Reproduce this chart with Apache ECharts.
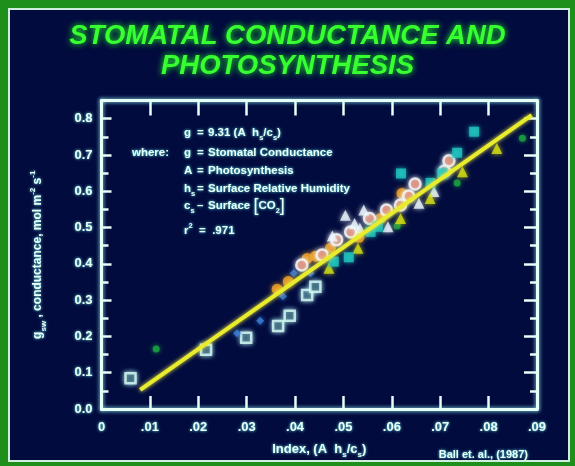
<!DOCTYPE html>
<html>
<head>
<meta charset="utf-8">
<script src="https://cdn.jsdelivr.net/npm/echarts@6/dist/echarts.min.js"></script>
<style>
  html, body { margin: 0; padding: 0; background: #020b3e; }
  #chart { width: 575px; height: 466px; }
</style>
</head>
<body>
<div id="chart"></div>
<script>
// values: [index A*hs/cs, conductance]
const openSquares = [[0.006, 0.085], [0.0216, 0.163], [0.0299, 0.196], [0.0365, 0.229], [0.0389, 0.257], [0.0425, 0.314], [0.0442, 0.337]];
const blueDiamonds = [[0.028, 0.209], [0.0328, 0.243], [0.0375, 0.311], [0.0397, 0.374], [0.0432, 0.374]];
const greenDots = [[0.0113, 0.165], [0.0611, 0.504], [0.0735, 0.623], [0.087, 0.746]];
const orangeCircles = [[0.0363, 0.33], [0.0386, 0.351], [0.0425, 0.415], [0.0442, 0.421], [0.0473, 0.443], [0.0532, 0.473], [0.0577, 0.525], [0.0621, 0.594]];
const targetCircles = [[0.0414, 0.397], [0.0456, 0.424], [0.0486, 0.466], [0.0515, 0.488], [0.0554, 0.525], [0.0589, 0.548], [0.0618, 0.562], [0.0635, 0.587], [0.0648, 0.62], [0.0709, 0.656], [0.0718, 0.684]];
const whiteTriangles = [[0.0477, 0.477], [0.0504, 0.534], [0.0523, 0.511], [0.0534, 0.498], [0.0542, 0.548], [0.0592, 0.502], [0.0656, 0.567], [0.0687, 0.599]];
const yellowTriangles = [[0.047, 0.388], [0.053, 0.443], [0.0618, 0.525], [0.0679, 0.58], [0.0746, 0.654], [0.0817, 0.718]];
const cyanSquares = [[0.048, 0.406], [0.0511, 0.418], [0.0556, 0.488], [0.0571, 0.502], [0.0619, 0.649], [0.068, 0.623], [0.0704, 0.649], [0.0735, 0.706], [0.077, 0.764]];
const fitLine = [[0.008, 0.053], [0.0889, 0.81]];

const xMin = 0, xMax = 0.09, xStep = 0.01;
const yMin = 0, yMax = 0.85, yStep = 0.1;

const navy = "#020b3e";
const green = "#1f8f1c";
const frame = "#e6fff7";
const textCol = "#e9fff8";
const font = "'Liberation Sans', Arial, sans-serif";

const chart = echarts.init(document.getElementById("chart"));

function pts(name, data, symbol, size, color, extra) {
  return {
    name, type: "scatter", data, symbol, symbolSize: size, z: 3,
    itemStyle: Object.assign({ color, shadowBlur: 5, shadowColor: color }, extra || {}),
  };
}

const axisBase = {
  type: "value",
  splitLine: { show: false },
  axisLine: { show: true, onZero: false, lineStyle: { color: frame, width: 3, shadowBlur: 4, shadowColor: "#9ff" } },
  axisTick: { show: true, inside: true, lineStyle: { color: frame, width: 2.5 } },
};

const labelStyle = {
  color: textCol, fontFamily: font, fontWeight: "bold", fontSize: 13,
  textShadowBlur: 3, textShadowColor: "#7ff",
};

const smallText = (text, x, y, align) => ({
  type: "text", x, y,
  style: {
    text, fill: textCol, font: "bold 11.5px " + font, textAlign: align || "left", textVerticalAlign: "middle",
    textShadowBlur: 3, textShadowColor: "#6ff",
    rich: {
      s: { fontSize: 7.5, fontWeight: "bold", fontFamily: font, fill: textCol, verticalAlign: "bottom", lineHeight: 18 },
      u: { fontSize: 7.5, fontWeight: "bold", fontFamily: font, fill: textCol, verticalAlign: "top", lineHeight: 18 },
      b: { fontSize: 18, fontWeight: "normal", fontFamily: font, fill: textCol },
    },
  },
});

const edge = (x, y, width, height) => ({
  type: "rect", z: 50, silent: true, shape: { x, y, width, height }, style: { fill: green },
});

chart.setOption({
  backgroundColor: navy,
  animation: false,
  title: {
    text: "STOMATAL CONDUCTANCE AND\nPHOTOSYNTHESIS",
    left: "center",
    top: 16,
    textStyle: {
      color: "#38ff30", fontFamily: font, fontStyle: "italic", fontWeight: "bold",
      fontSize: 27.5, lineHeight: 30, textShadowBlur: 6, textShadowColor: "#2f2",
    },
  },
  grid: { left: 101.5, right: 38, top: 100.5, bottom: 57 },
  xAxis: [
    Object.assign({}, axisBase, {
      min: xMin, max: xMax, interval: xStep, position: "bottom",
      axisTick: Object.assign({}, axisBase.axisTick, { length: 13 }),
      axisLabel: Object.assign({}, labelStyle, {
        margin: 12,
        formatter: (v) => (v === 0 ? "0" : v.toFixed(2).replace(/^0/, "")),
      }),
      name: "{n|Index, (A  h}{s|s}{n|/c}{s|s}{n|)}",
      nameLocation: "middle",
      nameGap: 30,
      nameTextStyle: {
        rich: {
          n: Object.assign({}, labelStyle, { fontSize: 13 }),
          s: Object.assign({}, labelStyle, { fontSize: 8, verticalAlign: "bottom", lineHeight: 20 }),
        },
      },
    }),
    Object.assign({}, axisBase, {
      min: xMin, max: xMax, interval: xStep, position: "top",
      axisTick: Object.assign({}, axisBase.axisTick, { length: 15 }),
      axisLabel: { show: false },
    }),
  ],
  yAxis: [
    Object.assign({}, axisBase, {
      min: yMin, max: yMax, interval: yStep, position: "left",
      axisTick: Object.assign({}, axisBase.axisTick, { length: 10 }),
      minorTick: { show: true, splitNumber: 2, length: 7, lineStyle: { color: frame, width: 2.5 } },
      axisLabel: Object.assign({}, labelStyle, {
        margin: 9,
        formatter: (v) => (Math.abs(v * 10 - Math.round(v * 10)) < 1e-6 ? v.toFixed(1) : ""),
      }),
      name: "{n|g}{s|sw}{n| , conductance, mol m}{u|-2}{n| s}{u|-1}",
      nameLocation: "middle",
      nameRotate: 90,
      nameGap: 54,
      nameTextStyle: {
        rich: {
          n: Object.assign({}, labelStyle, { fontSize: 12 }),
          s: Object.assign({}, labelStyle, { fontSize: 8, verticalAlign: "bottom", lineHeight: 19 }),
          u: Object.assign({}, labelStyle, { fontSize: 8, verticalAlign: "top", lineHeight: 19 }),
        },
      },
    }),
    Object.assign({}, axisBase, {
      min: yMin, max: yMax, interval: yStep, position: "right",
      axisTick: Object.assign({}, axisBase.axisTick, { length: 13 }),
      minorTick: { show: true, splitNumber: 2, length: 7, lineStyle: { color: frame, width: 2.5 } },
      axisLabel: { show: false },
    }),
  ],
  graphic: [
    edge(0, 0, 575, 8),
    edge(0, 0, 8, 466),
    edge(570, 0, 5, 466),
    edge(0, 462, 575, 4),
    { type: "rect", z: 50, silent: true, shape: { x: 9, y: 9, width: 560, height: 452 },
      style: { fill: null, stroke: "#cfeedd", lineWidth: 2 } },
    smallText("g", 184, 133),
    smallText("=", 197, 133),
    smallText("9.31 (A  h{s|s}/c{s|s})", 208, 133),
    smallText("where:", 169, 153, "right"),
    smallText("g", 184, 153),
    smallText("=", 197, 153),
    smallText("Stomatal Conductance", 208, 153),
    smallText("A", 184, 171),
    smallText("=", 197, 171),
    smallText("Photosynthesis", 208, 171),
    smallText("h{s|s}", 184, 189),
    smallText("=", 197, 189),
    smallText("Surface Relative Humidity", 208, 189),
    smallText("c{s|s}", 184, 206),
    smallText("–", 197, 206),
    smallText("Surface {b|[}CO{s|2}{b|]}", 208, 206),
    smallText("r{u|2}  =  .971", 184, 231),
    { type: "text", x: 528, y: 455, style: {
        text: "Ball et. al., (1987)", fill: textCol, font: "bold 11px " + font,
        textAlign: "right", textVerticalAlign: "middle", textShadowBlur: 3, textShadowColor: "#6ff" } },
  ],
  series: [
    { name: "fit", type: "line", data: fitLine, symbol: "none", z: 4,
      lineStyle: { color: "#e8ec2c", width: 4, shadowBlur: 4, shadowColor: "#ee4" } },
    pts("open squares", openSquares, "rect", 10, "#0a2a4a", { borderColor: "#dcfff6", borderWidth: 2.5, shadowColor: "#bff" }),
    pts("diamonds", blueDiamonds, "diamond", 8, "#3f82d8"),
    pts("green", greenDots, "circle", 7, "#1aa842"),
    pts("orange", orangeCircles, "circle", 11, "#f0a22a"),
    pts("targets", targetCircles, "circle", 11, "#dc6a4c", { borderColor: "#f4fbff", borderWidth: 2.5, shadowColor: "#fff" }),
    pts("white tri", whiteTriangles, "triangle", 11, "#eef8ff"),
    pts("yellow tri", yellowTriangles, "triangle", 11, "#d6e014"),
    pts("cyan", cyanSquares, "rect", 10, "#22c8c2"),
  ],
});
</script>
</body>
</html>
